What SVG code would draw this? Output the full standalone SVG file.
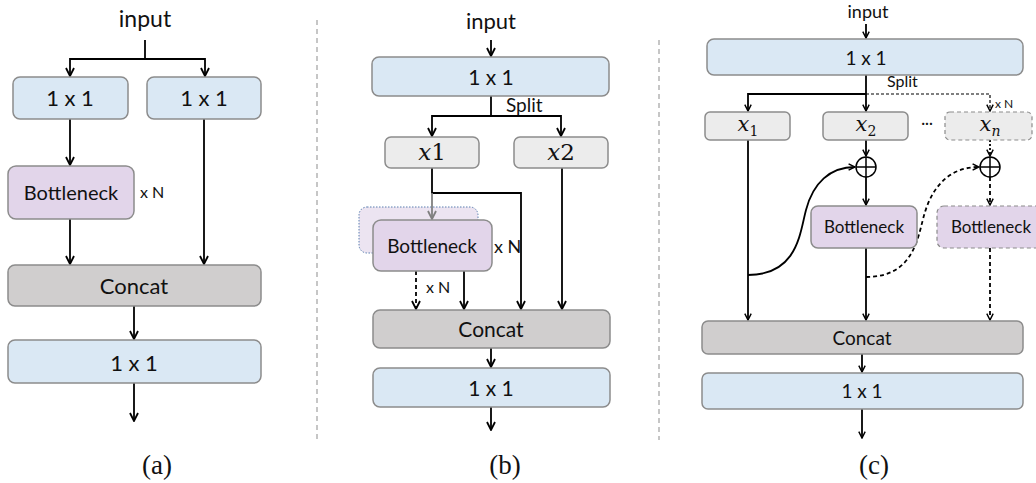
<svg xmlns="http://www.w3.org/2000/svg" width="1036" height="483" viewBox="0 0 1036 483">
<defs>
<marker id="ah" viewBox="0 0 10 10" refX="9" refY="5" markerWidth="10" markerHeight="10" markerUnits="userSpaceOnUse" orient="auto"><path d="M1,1 L9,5 L1,9" fill="none" stroke="#000" stroke-width="1.8" stroke-dasharray="none"/></marker>
<marker id="ahs" viewBox="0 0 10 10" refX="9" refY="5" markerWidth="8" markerHeight="8" markerUnits="userSpaceOnUse" orient="auto"><path d="M1,1 L9,5 L1,9" fill="none" stroke="#000" stroke-width="1.8" stroke-dasharray="none"/></marker>
<marker id="ahg" viewBox="0 0 10 10" refX="9" refY="5" markerWidth="10" markerHeight="10" markerUnits="userSpaceOnUse" orient="auto"><path d="M1,1 L9,5 L1,9" fill="none" stroke="#7f7f7f" stroke-width="1.8"/></marker>
</defs>
<style>
.t{font-family:Lato,"Open Sans","Liberation Sans",sans-serif;fill:#111;text-anchor:middle}
.s{font-family:Lato,"Open Sans","Liberation Sans",sans-serif;fill:#111}
.m{font-family:"DejaVu Serif","Liberation Serif",serif;fill:#111;text-anchor:middle}
.cap{font-family:"Liberation Serif","DejaVu Serif",serif;fill:#111;text-anchor:middle;font-size:27px}
.blue{fill:#dae8f4;stroke:#8c8c8c;stroke-width:1.5}
.purp{fill:#e2d5ea;stroke:#8c8c8c;stroke-width:1.5}
.gray{fill:#d0cece;stroke:#8c8c8c;stroke-width:1.5}
.lg{fill:#ececec;stroke:#8c8c8c;stroke-width:1.5}
.dsh{stroke-dasharray:4 3}
.ln{fill:none;stroke:#000;stroke-width:1.8}
.sep{stroke:#b4b4b4;stroke-width:1.5;stroke-dasharray:5 4;fill:none}
</style>
<rect width="1036" height="483" fill="#fff"/>
<g id="separators">
<line class="sep" x1="317" y1="20" x2="317" y2="440"/>
<line class="sep" x1="659" y1="40" x2="659" y2="440"/>
</g>
<g id="connectors">
<path class="ln" d="M145,40 V59"/>
<path class="ln" d="M145,59 H70 V76" marker-end="url(#ah)"/>
<path class="ln" d="M145,59 H205 V76" marker-end="url(#ah)"/>
<path class="ln" d="M70,119 V165" marker-end="url(#ah)"/>
<path class="ln" d="M70,219 V264" marker-end="url(#ah)"/>
<path class="ln" d="M204,119 V264" marker-end="url(#ah)"/>
<path class="ln" d="M134,306 V339" marker-end="url(#ah)"/>
<path class="ln" d="M134,383 V421" marker-end="url(#ah)"/>
<path class="ln" d="M491,40 V56" marker-end="url(#ah)"/>
<path class="ln" d="M491,96 V116"/>
<path class="ln" d="M491,116 H432 V136" marker-end="url(#ah)"/>
<path class="ln" d="M491,116 H561 V136" marker-end="url(#ah)"/>
<path class="ln" d="M432,168 V193 H521 V309" marker-end="url(#ah)"/>
<path class="ln dsh" d="M416,271 V309" marker-end="url(#ah)"/>
<path class="ln" d="M464,271 V309" marker-end="url(#ah)"/>
<path class="ln" d="M562,168 V309" marker-end="url(#ah)"/>
<path class="ln" d="M491,348 V367" marker-end="url(#ah)"/>
<path class="ln" d="M491,407 V430" marker-end="url(#ah)"/>
<path class="ln" d="M866,24 V38" marker-end="url(#ahs)"/>
<path class="ln" d="M866,75 V111" marker-end="url(#ahs)"/>
<path class="ln" d="M866,94 H748 V111" marker-end="url(#ahs)"/>
<path class="ln" d="M866,94 H990 V111" style="stroke-width:1.2;stroke-dasharray:3 2" marker-end="url(#ahs)"/>
<path class="ln" d="M748,140 V320" marker-end="url(#ahs)"/>
<path class="ln" d="M866,140 V156" marker-end="url(#ahs)"/>
<path class="ln" d="M866,177 V205" marker-end="url(#ahs)"/>
<path class="ln" d="M866,248 V320" marker-end="url(#ahs)"/>
<path class="ln" d="M748,275 C798,275 800,232 806,210 C813,183 830,167 855,167" marker-end="url(#ahs)"/>
<path class="ln" d="M990,140 V156" style="stroke-dasharray:2 2" marker-end="url(#ahs)"/>
<path class="ln dsh" d="M990,177 V205" marker-end="url(#ahs)"/>
<path class="ln dsh" d="M990,248 V320" marker-end="url(#ahs)"/>
<path class="ln dsh" d="M866,277 C916,277 918,234 925,212 C933,186 950,167 979,167" marker-end="url(#ahs)"/>
<path class="ln" d="M862,354 V372" marker-end="url(#ahs)"/>
<path class="ln" d="M862,409 V438" marker-end="url(#ahs)"/>
</g>
<text class="t" x="145" y="27" font-size="23">input</text>
<g id="a_conv1"><rect class="blue" x="13" y="77" width="115" height="42" rx="7"/><text class="t" x="70" y="106" font-size="22">1 x 1</text></g>
<g id="a_conv2"><rect class="blue" x="147" y="77" width="114" height="42" rx="7"/><text class="t" x="204" y="106" font-size="22">1 x 1</text></g>
<g id="a_bottleneck"><rect class="purp" x="8" y="166" width="126" height="53" rx="8"/><text class="t" x="71" y="200" font-size="20">Bottleneck</text></g>
<text class="s" x="140" y="198" font-size="16">x N</text>
<g id="a_concat"><rect class="gray" x="8" y="265" width="253" height="41" rx="7"/><text class="t" x="134" y="294" font-size="22">Concat</text></g>
<g id="a_conv3"><rect class="blue" x="8" y="340" width="253" height="43" rx="7"/><text class="t" x="134" y="371" font-size="22">1 x 1</text></g>
<text class="cap" x="157" y="474">(a)</text>
<text class="t" x="491" y="29" font-size="22">input</text>
<g id="b_conv1"><rect class="blue" x="372" y="57" width="237" height="39" rx="7"/><text class="t" x="491" y="85" font-size="21">1 x 1</text></g>
<text class="s" x="506" y="112" font-size="19">Split</text>
<g id="b_x1"><rect class="lg" x="385" y="137" width="94" height="31" rx="6"/><text class="m" x="432" y="160" font-size="23"><tspan font-style="italic">x</tspan>1</text></g>
<g id="b_x2"><rect class="lg" x="514" y="137" width="94" height="31" rx="6"/><text class="m" x="561" y="160" font-size="23"><tspan font-style="italic">x</tspan>2</text></g>
<g id="b_bottleneck">
<rect x="359" y="207" width="119" height="46" rx="8" fill="#ece4f1" stroke="#5b7fb0" stroke-width="1" stroke-dasharray="1.5 1.5"/>
<path fill="none" stroke="#7f7f7f" stroke-width="1.8" d="M432,193 V219" marker-end="url(#ahg)"/>
<rect class="purp" x="373" y="220" width="119" height="51" rx="8"/>
<text class="t" x="432" y="253" font-size="19">Bottleneck</text>
</g>
<text class="s" x="494" y="253" font-size="18">x N</text>
<text class="s" x="426" y="293" font-size="16">x N</text>
<g id="b_concat"><rect class="gray" x="373" y="310" width="237" height="38" rx="7"/><text class="t" x="491" y="337" font-size="21">Concat</text></g>
<g id="b_conv2"><rect class="blue" x="373" y="368" width="237" height="39" rx="7"/><text class="t" x="491" y="396" font-size="21">1 x 1</text></g>
<text class="cap" x="505" y="474">(b)</text>
<text class="t" x="868" y="18" font-size="18">input</text>
<g id="c_conv1"><rect class="blue" x="707" y="39" width="316" height="36" rx="7"/><text class="t" x="866" y="65" font-size="19">1 x 1</text></g>
<text class="s" x="887" y="87" font-size="16">Split</text>
<text class="s" x="995" y="108" font-size="12">x N</text>
<g id="c_x1"><rect class="lg" x="705" y="112" width="85" height="28" rx="5"/><text class="m" x="748" y="131" font-size="21"><tspan font-style="italic">x</tspan><tspan font-size="14" dy="5">1</tspan></text></g>
<g id="c_x2"><rect class="lg" x="823" y="112" width="85" height="28" rx="5"/><text class="m" x="866" y="131" font-size="21"><tspan font-style="italic">x</tspan><tspan font-size="14" dy="5">2</tspan></text></g>
<text class="t" x="927" y="128" font-size="15">···</text>
<g id="c_xn"><rect class="lg dsh" x="945" y="112" width="87" height="28" rx="5" style="stroke-width:1.2"/><text class="m" x="990" y="131" font-size="21"><tspan font-style="italic">x</tspan><tspan font-size="14" dy="5" font-style="italic">n</tspan></text></g>
<g id="c_add1"><circle cx="866" cy="167" r="10" fill="#fff" stroke="#000" stroke-width="1.5"/><path d="M856,167 H876 M866,157 V177" stroke="#000" stroke-width="1.5"/></g>
<g id="c_add2"><circle cx="990" cy="167" r="10" fill="#fff" stroke="#000" stroke-width="1.5"/><path d="M980,167 H1000 M990,157 V177" stroke="#000" stroke-width="1.5"/></g>
<g id="c_bottleneck1"><rect class="purp" x="811" y="206" width="106" height="42" rx="7"/><text class="t" x="864" y="233" font-size="17">Bottleneck</text></g>
<g id="c_bottleneck2"><rect class="purp dsh" x="937" y="206" width="106" height="42" rx="7" style="stroke-width:1.2"/><text class="t" x="991" y="233" font-size="17">Bottleneck</text></g>
<g id="c_concat"><rect class="gray" x="702" y="321" width="321" height="33" rx="6"/><text class="t" x="862" y="345" font-size="19">Concat</text></g>
<g id="c_conv2"><rect class="blue" x="702" y="373" width="321" height="36" rx="6"/><text class="t" x="862" y="398" font-size="19">1 x 1</text></g>
<text class="cap" x="874" y="474">(c)</text>
</svg>
